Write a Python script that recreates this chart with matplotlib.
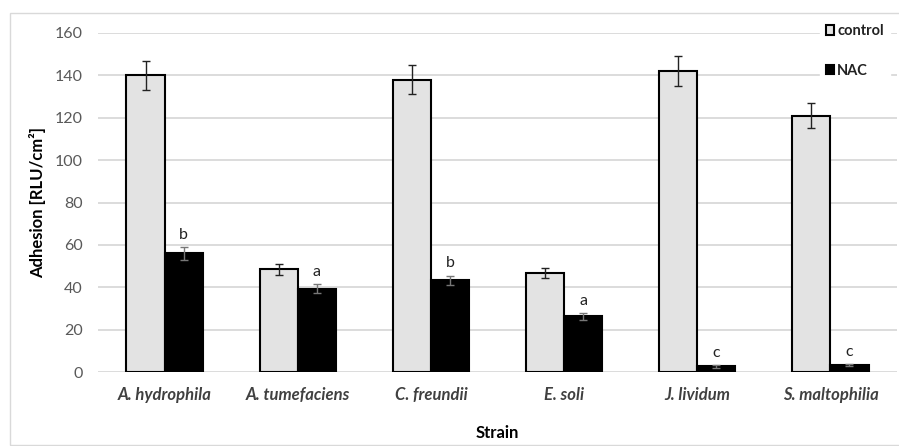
import numpy as np
import matplotlib
matplotlib.use("Agg")
import matplotlib.pyplot as plt
from matplotlib.patches import Rectangle

plt.rcParams["font.family"] = ["Lato", "DejaVu Sans"]

strains = ["A. hydrophila", "A. tumefaciens", "C. freundii", "E. soli", "J. lividum", "S. maltophilia"]
control = [140, 48.5, 138, 46.8, 142, 121]
control_err = [7, 2.5, 7, 2.3, 7, 6]
nac = [56, 39.3, 43.3, 26.2, 2.6, 3.2]
nac_err = [3, 2, 2.2, 1.5, 0.5, 0.5]
letters = ["b", "a", "b", "a", "c", "c"]

fig = plt.figure(figsize=(8.99, 4.46), dpi=100)
ax = fig.add_axes([98 / 899, 74 / 446, 799 / 899, 339 / 446])

x = np.arange(len(strains))
w = 0.286

ax.bar(x - w / 2, control, w, color="#e3e3e3", edgecolor="black", linewidth=1.5,
       label="control", zorder=3)
ax.bar(x + w / 2, nac, w, color="black", edgecolor="black", linewidth=1.5,
       label="NAC", zorder=3)
ax.errorbar(x - w / 2, control, yerr=control_err, fmt="none", ecolor="#222222",
            elinewidth=1, capsize=3, capthick=1, zorder=4)
ax.errorbar(x + w / 2, nac, yerr=nac_err, fmt="none", ecolor="#777777",
            elinewidth=1, capsize=3, capthick=1, zorder=4)

for xi, v, e, lab in zip(x, nac, nac_err, letters):
    ax.text(xi + w / 2, v + e + 2.5, lab, ha="center", va="bottom",
            fontsize=11.5, color="#222222", zorder=5)

ax.set_xlim(-0.5, 5.5)
ax.set_ylim(0, 160)
ax.set_yticks(range(0, 161, 20))
ax.set_xticks(x)
ax.set_xticklabels(strains, fontstyle="italic", fontweight="bold", color="#404040", fontsize=12)
ax.tick_params(axis="y", labelcolor="#595959", labelsize=11.5, length=0, pad=11)
ax.tick_params(axis="x", length=0, pad=11)
ax.grid(axis="y", color="#d9d9d9", linewidth=1.3, zorder=0)
ax.set_axisbelow(True)
for s in ax.spines.values():
    s.set_visible(False)

ax.set_ylabel("Adhesion [RLU/cm²]", fontweight="bold", fontsize=12, color="black", labelpad=6)
ax.set_xlabel("Strain", fontweight="bold", fontsize=12, color="black", labelpad=16)

leg = ax.legend(loc="upper right", bbox_to_anchor=(1.0, 1.065), frameon=True,
                fancybox=False, edgecolor="white", facecolor="white", framealpha=1,
                handlelength=0.6, handleheight=0.6, handletextpad=0.2,
                labelspacing=1.75, borderpad=0.4, prop={"weight": "bold", "size": 10.5})
for t in leg.get_texts():
    t.set_color("#222222")

fig.patches.append(Rectangle((10 / 899, 1 / 446), 900 / 899, 432 / 446,
                             transform=fig.transFigure, fill=False,
                             edgecolor="#d9d9d9", linewidth=1))

fig.savefig("out.png", dpi=100)
